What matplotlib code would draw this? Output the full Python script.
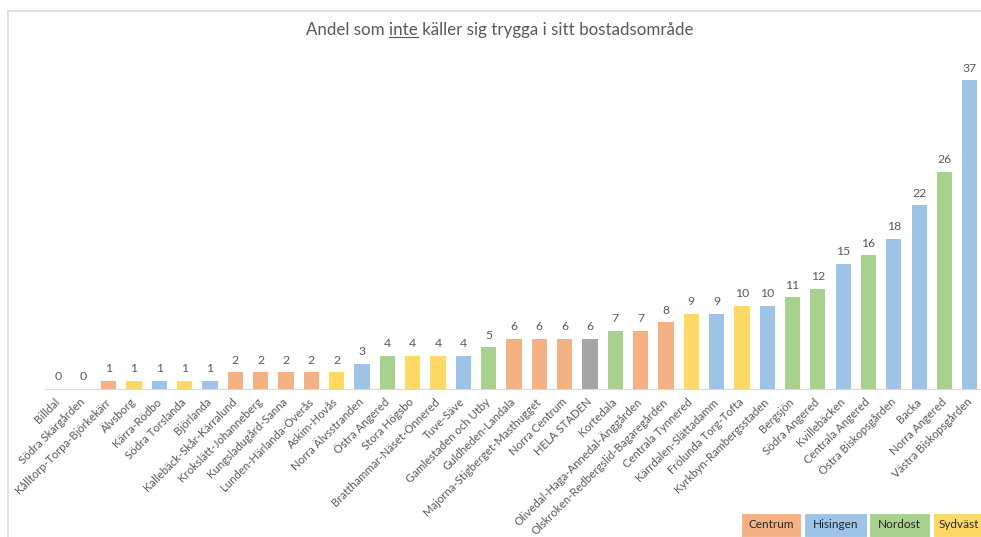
import matplotlib
matplotlib.use("Agg")
import matplotlib.pyplot as plt
from matplotlib.patches import Rectangle
from matplotlib.lines import Line2D

plt.rcParams["font.family"] = ["Lato", "DejaVu Sans"]

# Data
areas = ["Billdal", "Södra Skärgården", "Kålltorp-Torpa-Björkekärr", "Älvsborg", "Kärra-Rödbo",
         "Södra Torslanda", "Björlanda", "Kallebäck-Skår-Kärralund", "Krokslätt-Johanneberg",
         "Kungsladugård-Sanna", "Lunden-Härlanda-Överås", "Askim-Hovås", "Norra Älvsstranden",
         "Östra Angered", "Stora Högsbo", "Bratthammar-Näset-Önnered", "Tuve-Säve",
         "Gamlestaden och Utby", "Guldheden-Landala", "Majorna-Stigberget-Masthugget",
         "Norra Centrum", "HELA STADEN", "Kortedala", "Olivedal-Haga-Annedal-Änggården",
         "Olskroken-Redbergslid-Bagaregården", "Centrala Tynnered", "Kärrdalen-Slättadamm",
         "Frölunda Torg-Tofta", "Kyrkbyn-Rambergsstaden", "Bergsjön", "Södra Angered",
         "Kvillebäcken", "Centrala Angered", "Östra Biskopsgården", "Backa", "Norra Angered",
         "Västra Biskopsgården"]
values = [0, 0, 1, 1, 1, 1, 1, 2, 2, 2, 2, 2, 3, 4, 4, 4, 4, 5, 6, 6, 6, 6, 7, 7, 8, 9, 9,
          10, 10, 11, 12, 15, 16, 18, 22, 26, 37]
districts = ["Sydväst", "Sydväst", "Centrum", "Sydväst", "Hisingen", "Sydväst", "Hisingen",
             "Centrum", "Centrum", "Centrum", "Centrum", "Sydväst", "Hisingen", "Nordost",
             "Sydväst", "Sydväst", "Hisingen", "Nordost", "Centrum", "Centrum", "Centrum",
             "Hela", "Nordost", "Centrum", "Centrum", "Sydväst", "Hisingen", "Sydväst",
             "Hisingen", "Nordost", "Nordost", "Hisingen", "Nordost", "Hisingen", "Hisingen",
             "Nordost", "Hisingen"]
legend_names = ["Centrum", "Hisingen", "Nordost", "Sydväst"]

colors = {"Centrum": "#F4B183", "Hisingen": "#9DC3E6", "Nordost": "#A9D18E",
          "Sydväst": "#FFD966", "Hela": "#A5A5A5"}

W, H = 981, 537
fig = plt.figure(figsize=(W / 100, H / 100), dpi=100)

# chart frame (cut off at right and bottom)
fig.add_artist(Line2D([8 / W, 1], [1 - 11 / H, 1 - 11 / H], color="#D9D9D9", lw=1.2))
fig.add_artist(Line2D([8 / W, 8 / W], [0, 1 - 11 / H], color="#D9D9D9", lw=1.2))

# axes placed so bar slots are ~25.3 px wide and baseline at y=389
slot = 25.33
left = 58 - slot / 2
ax = fig.add_axes([left / W, (H - 389) / H, slot * len(areas) / W, 8.35 * 40 / H])
ax.set_xlim(-0.5, len(areas) - 0.5)
ax.set_ylim(0, 40)

x = range(len(areas))
ax.bar(x, values, width=0.6, color=[colors[d] for d in districts])
for xi, v in zip(x, values):
    ax.annotate(str(v), (xi, v), xytext=(0, 12), textcoords="offset pixels",
                ha="center", va="center", fontsize=8.8, color="#595959")

for s in ["top", "right", "left"]:
    ax.spines[s].set_visible(False)
ax.spines["bottom"].set_color("#D9D9D9")
ax.set_yticks([])
ax.set_xticks(list(x))
ax.set_xticklabels(areas, rotation=45, ha="right", va="center", rotation_mode="anchor",
                   fontsize=8.2, color="#595959")
ax.tick_params(axis="x", length=0, pad=8)

# title with underlined "inte"
title = "Andel som inte käller sig trygga i sitt bostadsområde"
tfs = 12.2
t = fig.text(500 / W, 1 - 30 / H, title, ha="center", va="center", fontsize=tfs, color="#595959")
fig.canvas.draw()
r = fig.canvas.get_renderer()
bb = t.get_window_extent(r)

def width_of(s):
    tmp = fig.text(0, 0, s, fontsize=tfs)
    w = tmp.get_window_extent(r).width
    tmp.remove()
    return w

x_end = bb.x0 + width_of("Andel som inte")
x_start = x_end - width_of("inte")
uy = bb.y0 + 1
fig.add_artist(Line2D([x_start / W, x_end / W], [uy / H, uy / H], color="#595959", lw=0.8))

# district boxes at bottom right
boxes = [(741, 801), (804, 867), (869, 930), (933, 990)]
for name, (x0, x1) in zip(legend_names, boxes):
    fig.add_artist(Rectangle((x0 / W, 0), (x1 - x0) / W, 24 / H, transform=fig.transFigure,
                             facecolor=colors[name], edgecolor="white", lw=0.8))
    cx = (x0 + x1) / 2 if name != "Sydväst" else x0 + 26
    fig.text(cx / W, 12 / H, name, ha="center", va="center", fontsize=8.5, color="#262626")

fig.savefig("out.png", dpi=100)
